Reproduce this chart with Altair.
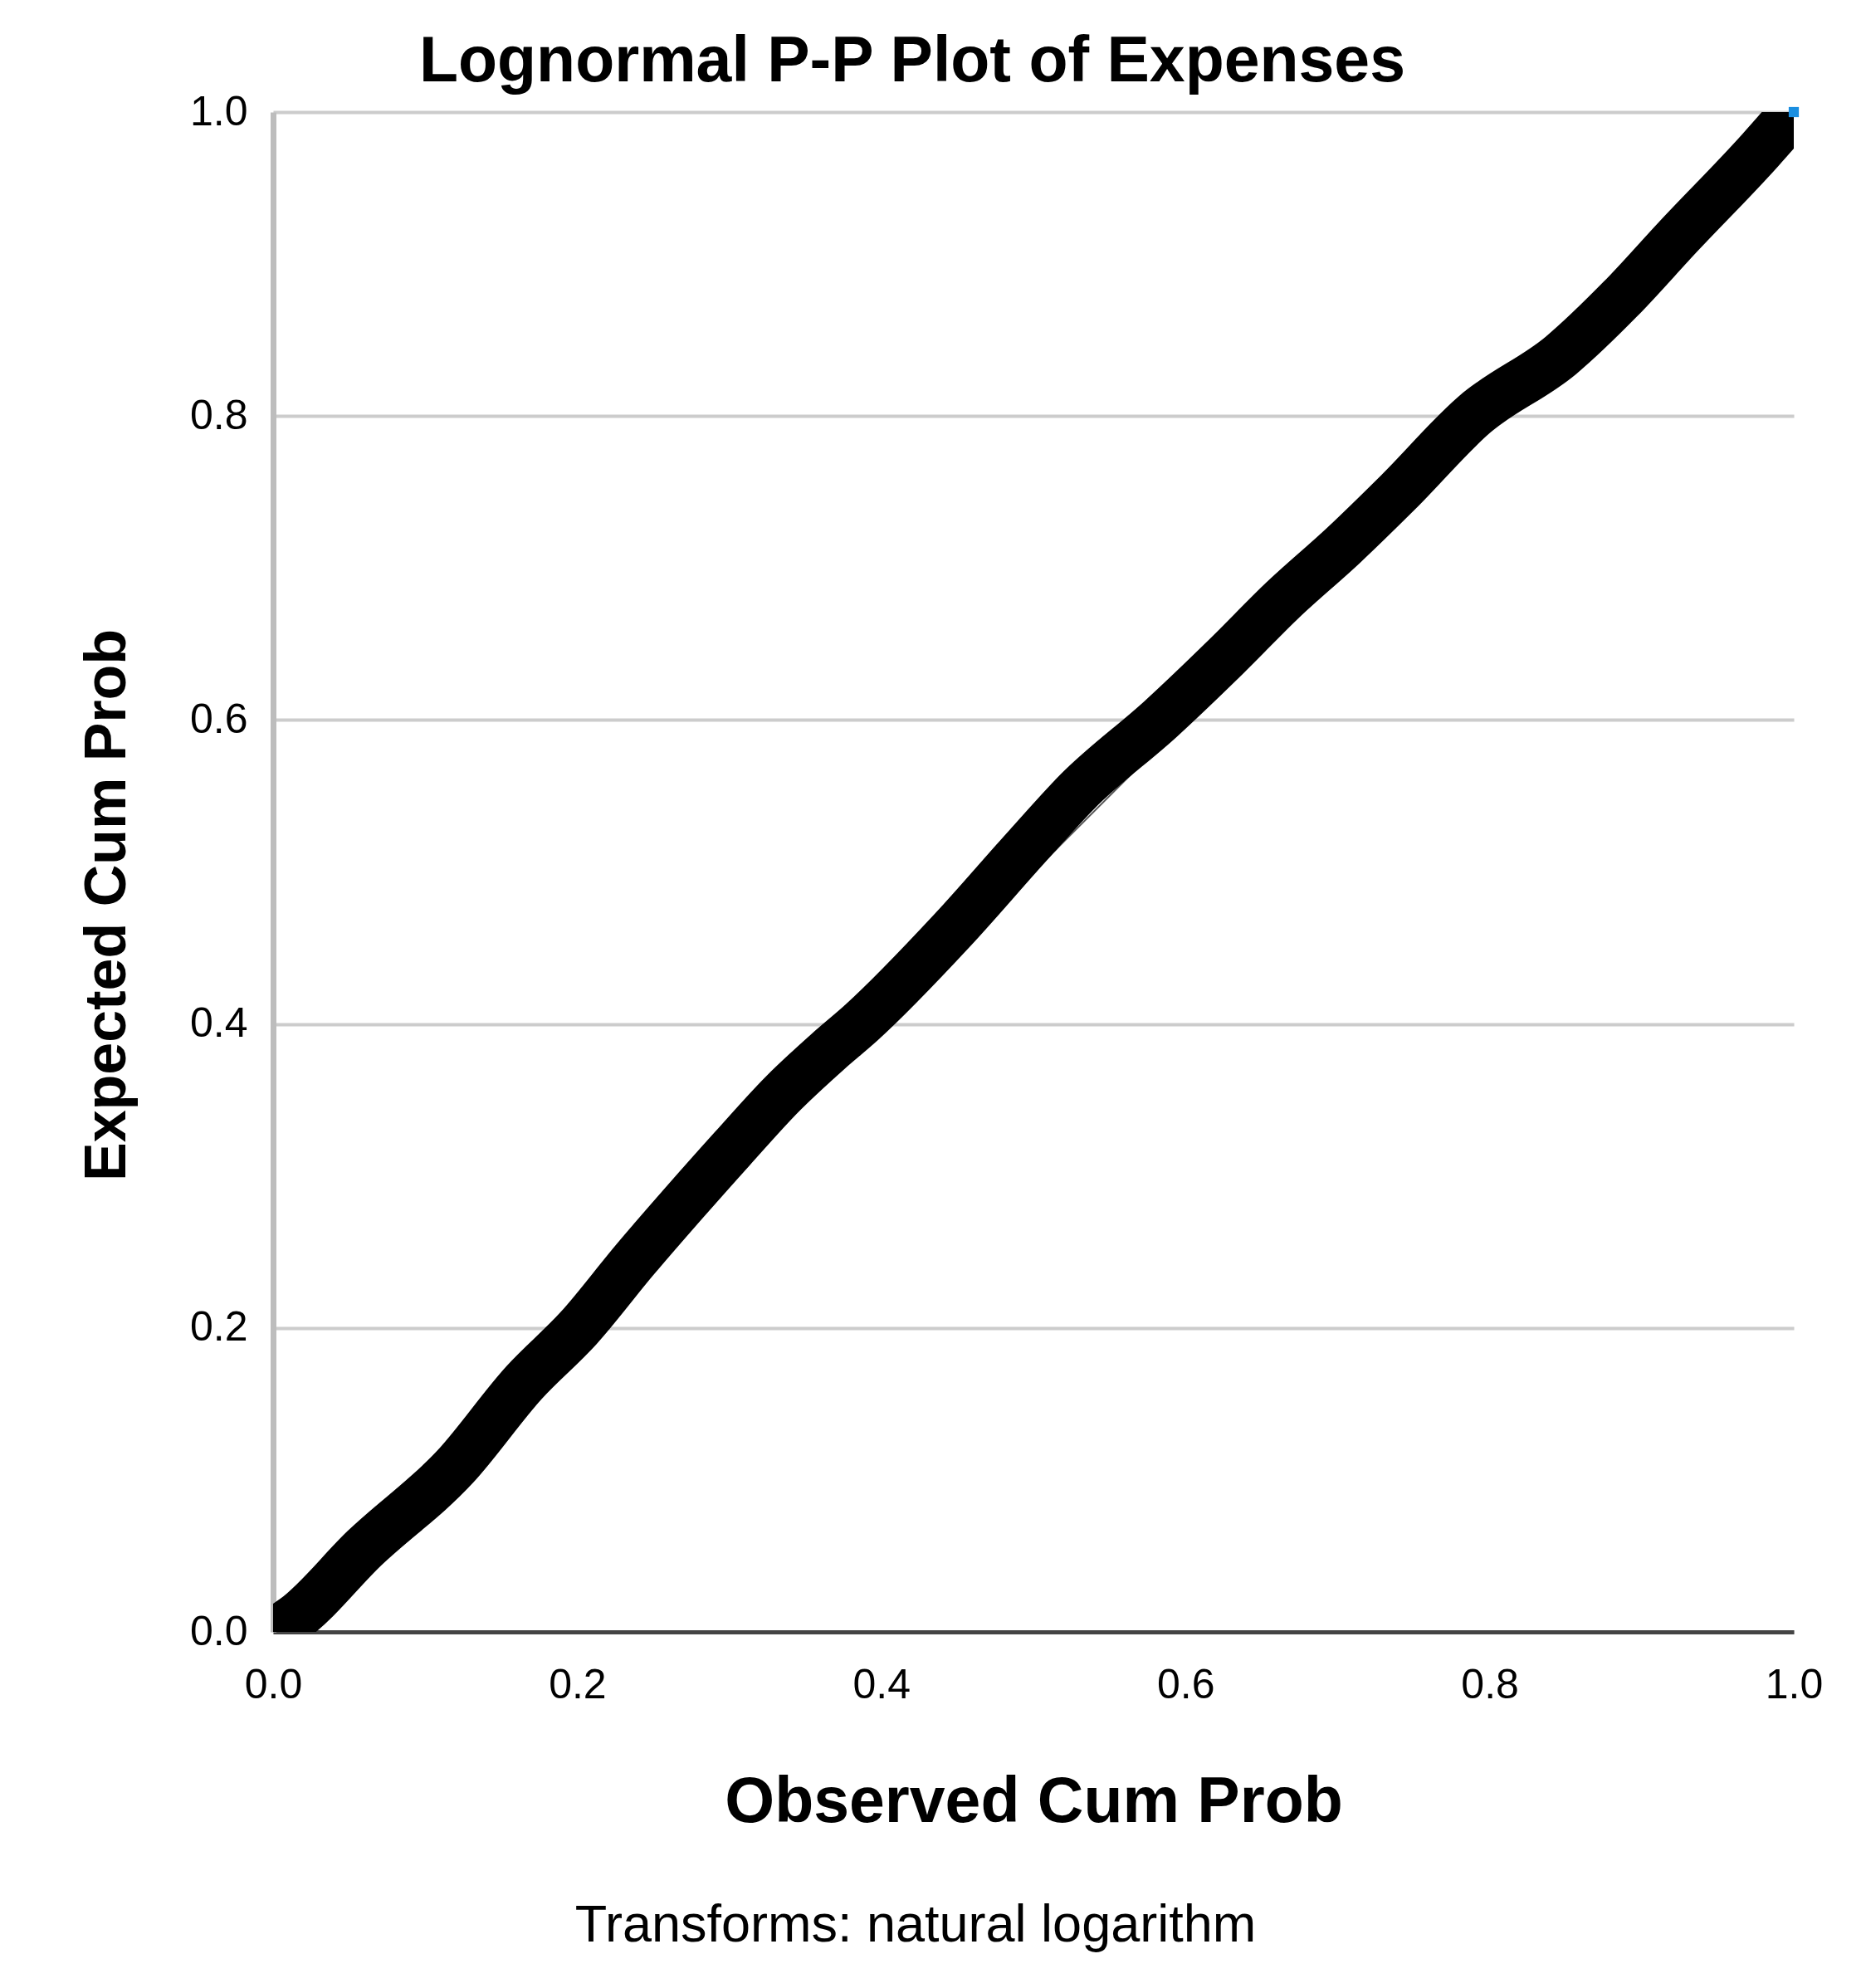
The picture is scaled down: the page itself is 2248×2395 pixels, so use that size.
import altair as alt
import pandas as pd

# Observed vs expected cumulative probabilities read along the point band
observed = [0.0, 0.014, 0.060, 0.120, 0.165, 0.201, 0.238, 0.270, 0.302, 0.335,
            0.365, 0.387, 0.447, 0.496, 0.529, 0.584, 0.627, 0.664, 0.704, 0.740,
            0.790, 0.847, 0.886, 0.923, 0.978, 1.0]
expected = [0.0, 0.009, 0.055, 0.109, 0.164, 0.200, 0.245, 0.282, 0.318, 0.354,
            0.382, 0.401, 0.462, 0.517, 0.553, 0.601, 0.642, 0.679, 0.715, 0.750,
            0.801, 0.840, 0.877, 0.917, 0.975, 1.0]

ref_x = [0.0, 1.0]
ref_y = [0.0, 1.0]

highlight_x = [1.0]
highlight_y = [1.0]

tick_values = [0.0, 0.2, 0.4, 0.6, 0.8, 1.0]

title_text = "Lognormal P-P Plot of Expenses"
x_title = "Observed Cum Prob"
y_title = "Expected Cum Prob"
caption_text = "Transforms: natural logarithm"

FONT = "Liberation Sans"

pts = pd.DataFrame({"observed": observed, "expected": expected})
ref = pd.DataFrame({"observed": ref_x, "expected": ref_y})
hi = pd.DataFrame({"observed": highlight_x, "expected": highlight_y})
cap = pd.DataFrame({"caption": [caption_text]})

xscale = alt.Scale(domain=[0, 1], nice=False, zero=False)
yscale = alt.Scale(domain=[0, 1], nice=False, zero=False)

x_axis = alt.Axis(
    values=tick_values, format=".1f", grid=False, ticks=False, tickSize=0,
    domainColor="#444444", domainWidth=5,
    labelFont=FONT, labelFontSize=50, labelColor="black", labelPadding=39,
    labelFlush=False,
    title=x_title, titleFont=FONT, titleFontSize=77, titleFontWeight="bold",
    titleColor="black", titleBaseline="alphabetic", titleAlign="center",
    titleX=916, titleY=228,
)
y_axis = alt.Axis(
    values=tick_values, format=".1f", grid=True, gridColor="#cccccc", gridWidth=4,
    ticks=False, tickSize=0,
    domainColor="#bdbdbd", domainWidth=7,
    labelFont=FONT, labelFontSize=50, labelColor="black", labelPadding=31,
    labelFlush=False,
    title=y_title, titleFont=FONT, titleFontSize=70, titleFontWeight="bold",
    titleColor="black", titleBaseline="alphabetic", titleAlign="center",
    titleAngle=270, titleX=-179, titleY=955,
)

ref_line = alt.Chart(ref).mark_line(color="#555555", strokeWidth=2, clip=True).encode(
    x=alt.X("observed:Q", scale=xscale, axis=x_axis),
    y=alt.Y("expected:Q", scale=yscale, axis=y_axis),
)

band = alt.Chart(pts).mark_line(
    color="black", strokeWidth=58, strokeCap="butt", strokeJoin="round",
    interpolate="monotone", clip=True
).encode(
    x=alt.X("observed:Q", scale=xscale, axis=x_axis),
    y=alt.Y("expected:Q", scale=yscale, axis=y_axis),
)

highlight = alt.Chart(hi).mark_point(
    shape="square", filled=True, color="#1a8ee0", size=150, opacity=1
).encode(
    x=alt.X("observed:Q", scale=xscale, axis=x_axis),
    y=alt.Y("expected:Q", scale=yscale, axis=y_axis),
)

caption = alt.Chart(cap).mark_text(
    font=FONT, fontSize=63, color="black", align="center", baseline="alphabetic"
).encode(
    text="caption:N",
    x=alt.value(774),
    y=alt.value(2204),
)

chart = alt.layer(ref_line, band, highlight, caption).properties(
    width=1832,
    height=1831,
    title=alt.TitleParams(
        text=title_text, font=FONT, fontSize=77, fontWeight="bold", color="black",
        anchor="middle", frame="group", baseline="alphabetic", offset=0,
        dx=-146, dy=65,
    ),
    padding={"left": 321, "top": 127, "right": 79, "bottom": 421},
    autosize=alt.AutoSizeParams(type="none"),
    background="white",
).configure_view(stroke=None)

chart.save("out.html", embed_options={"renderer": "svg", "actions": False})
